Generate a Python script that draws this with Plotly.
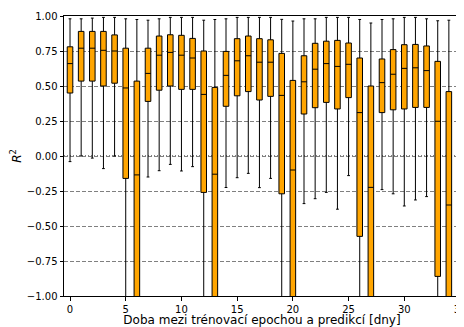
import plotly.graph_objects as go

days = list(range(35))
upper = [0.98, 0.98, 0.985, 0.99, 0.99, 0.98, 0.975, 0.97, 0.98, 0.99, 0.99, 0.99,
         0.97, 0.975, 0.98, 0.99, 0.99, 0.99, 0.99, 0.976, 0.964, 0.98, 0.98, 0.99,
         0.99, 0.99, 0.975, 0.95, 0.975, 0.98, 0.99, 0.99, 0.98, 0.966, 0.97]
q3 = [0.78, 0.89, 0.89, 0.89, 0.865, 0.77, 0.535, 0.77, 0.857, 0.866, 0.862, 0.84,
      0.75, 0.49, 0.747, 0.838, 0.857, 0.838, 0.83, 0.733, 0.54, 0.716, 0.805, 0.82,
      0.826, 0.807, 0.70, 0.50, 0.693, 0.76, 0.795, 0.797, 0.786, 0.676, 0.46]
median = [0.66, 0.77, 0.77, 0.755, 0.75, 0.486, -0.135, 0.59, 0.72, 0.74, 0.72, 0.70,
          0.44, -0.13, 0.576, 0.68, 0.716, 0.67, 0.67, 0.433, -0.10, 0.53, 0.62, 0.66,
          0.64, 0.655, 0.31, -0.224, 0.524, 0.584, 0.626, 0.63, 0.61, 0.248, -0.35]
q1 = [0.45, 0.535, 0.535, 0.50, 0.52, -0.16, -1.3, 0.39, 0.47, 0.50, 0.476, 0.476,
      -0.26, -1.3, 0.355, 0.43, 0.46, 0.40, 0.426, -0.27, -1.3, 0.30, 0.345, 0.383,
      0.336, 0.417, -0.574, -1.3, 0.31, 0.33, 0.336, 0.347, 0.347, -0.86, -1.3]
lower = [-0.04, 0.0, -0.015, -0.09, 0.0, -1.5, -2.0, -0.15, -0.105, -0.06, -0.107, -0.076,
         -1.5, -2.0, -0.225, -0.155, -0.124, -0.226, -0.16, -1.5, -2.0, -0.34, -0.305, -0.26,
         -0.38, -0.14, -1.5, -2.0, -0.24, -0.27, -0.357, -0.314, -0.29, -1.5, -2.0]

y_ticks = [-1.0, -0.75, -0.5, -0.25, 0.0, 0.25, 0.5, 0.75, 1.0]
x_ticks = [0, 5, 10, 15, 20, 25, 30, 35]

fig = go.Figure()
fig.add_trace(go.Box(
    x=days, q1=q1, median=median, q3=q3, lowerfence=lower, upperfence=upper,
    fillcolor="#FFA500", line=dict(color="black", width=1),
    width=0.5, whiskerwidth=0.5, boxpoints=False, hoverinfo="skip",
))

fig.add_shape(type="line", xref="paper", x0=0, x1=1, yref="y", y0=0, y1=0,
              line=dict(color="black", width=1, dash="1px,2px"), layer="below")

font = dict(family="DejaVu Sans", size=10, color="black")
# page body has an 8px margin, so the figure is sized to fit the 464x327 window
fig.update_layout(
    width=456, height=319,
    margin=dict(l=56, r=4, t=8, b=31, autoexpand=False),
    paper_bgcolor="white", plot_bgcolor="white",
    showlegend=False, font=font,
    xaxis=dict(range=[-0.54, 35], tickmode="array", tickvals=x_ticks,
               ticks="outside", ticklen=3.5, tickcolor="black",
               ticklabeloverflow="allow",
               showline=True, linecolor="black", linewidth=1, mirror=True,
               showgrid=False, zeroline=False, automargin=False,
               title=dict(text="Doba mezi trénovací epochou a predikcí [dny]", standoff=3)),
    yaxis=dict(range=[-1, 1], tickmode="array", tickvals=y_ticks, tickformat=".2f",
               ticks="outside", ticklen=3.5, tickcolor="black",
               showline=True, linecolor="black", linewidth=1, mirror=True,
               showgrid=True, gridcolor="#808080", griddash="4px,2px", gridwidth=1,
               zeroline=False, automargin=False,
               title=dict(text="<i>R</i><sup>2</sup>", standoff=8)),
)
fig.write_html("out.html")
